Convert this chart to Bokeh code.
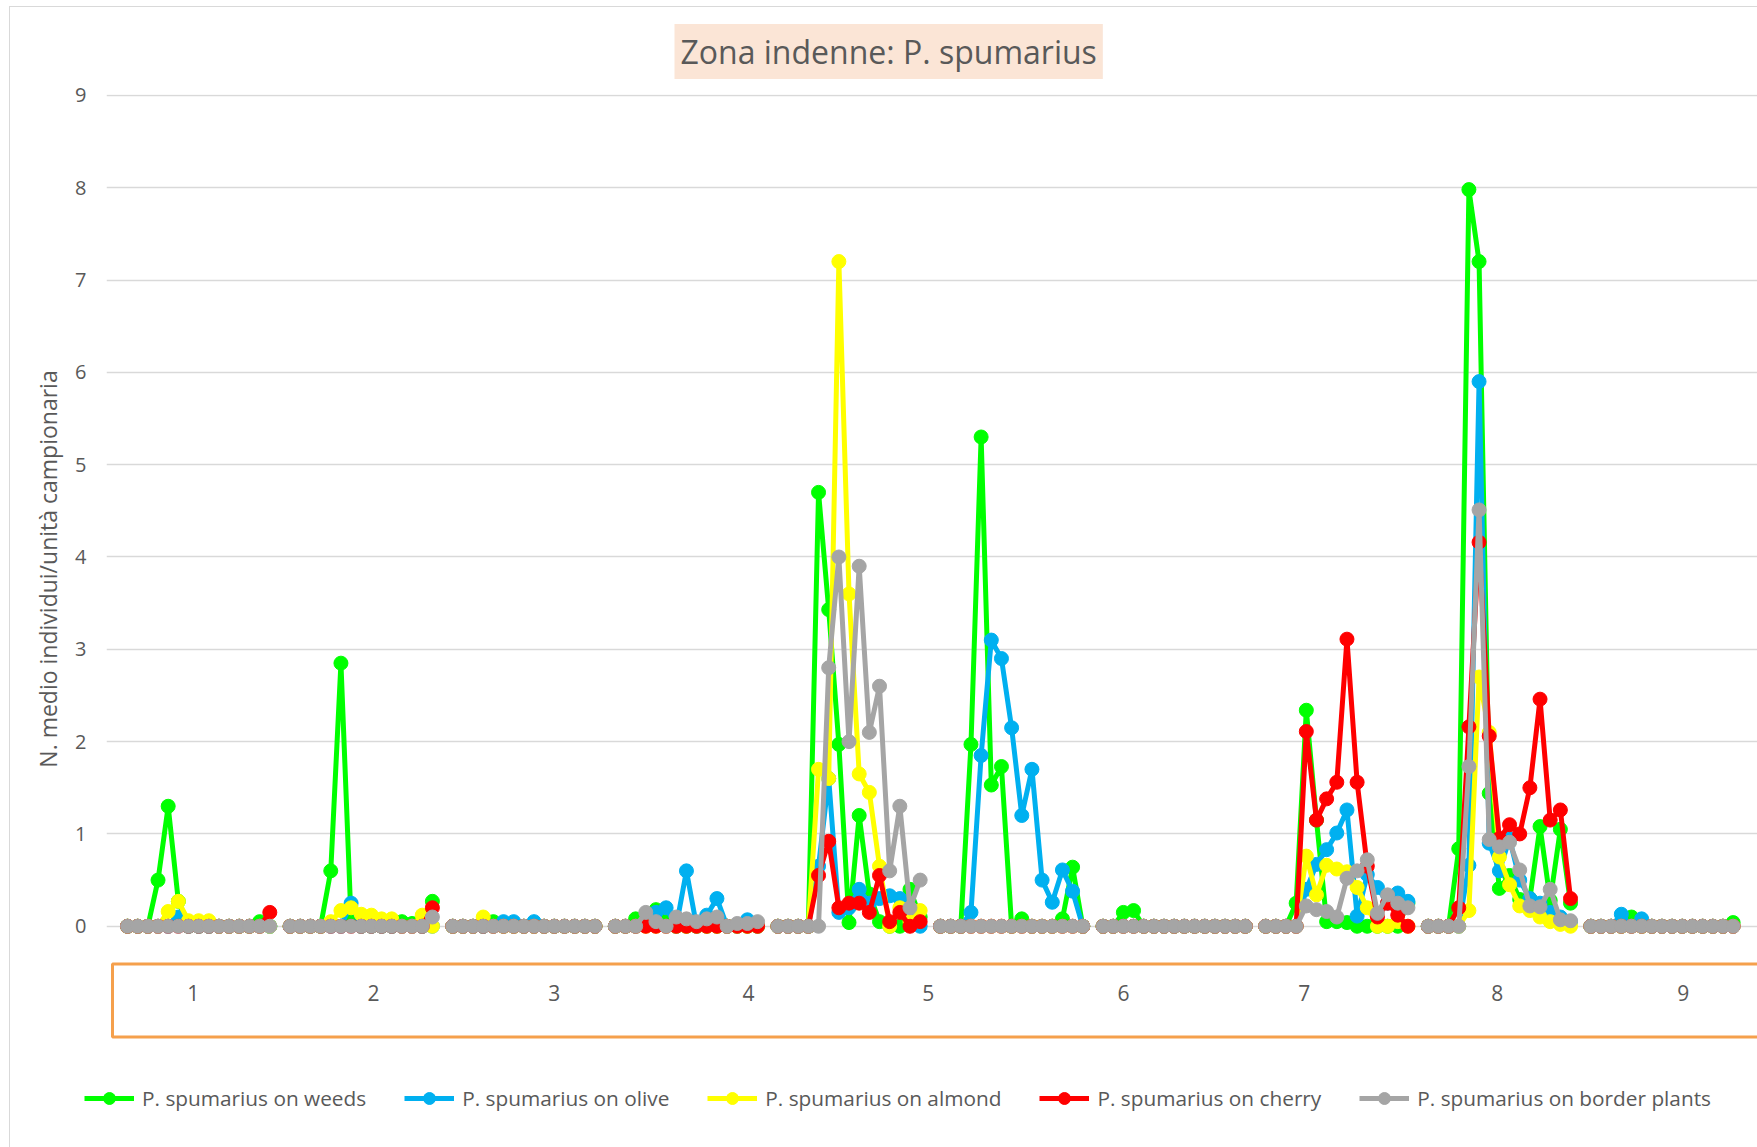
from bokeh.plotting import figure
from bokeh.models import Range1d, FixedTicker, Legend, LegendItem, BoxAnnotation, Title
from bokeh.core.properties import value
from bokeh.embed import file_html
from bokeh.resources import INLINE

# ---- data: 10 groups x 15 sampling points ----
STEP = 16  # 15 points + 1 empty category between groups

weeds = [
    [0, 0, 0, 0.5, 1.3, 0.27, 0, 0, 0, 0, 0, 0, 0, 0.05, 0],
    [0, 0, 0, 0, 0.6, 2.85, 0.05, 0, 0, 0, 0, 0.05, 0.03, 0, 0.27],
    [0, 0, 0, 0, 0.05, 0, 0, 0, 0, 0, 0, 0, 0, 0, 0],
    [0, 0, 0.08, 0.12, 0.18, 0.1, 0, 0, 0, 0, 0, 0, 0, 0, 0],
    [0, 0, 0, 0, 4.7, 3.43, 1.97, 0.04, 1.2, 0.35, 0.05, 0, 0, 0.4, 0.1],
    [0, 0, 0, 1.97, 5.3, 1.53, 1.73, 0, 0.08, 0, 0, 0, 0.08, 0.64, 0],
    [0, 0, 0.15, 0.17, 0, 0, 0, 0, 0, 0, 0, 0, 0, 0, 0],
    [0, 0, 0, 0.25, 2.34, 1.15, 0.05, 0.05, 0.04, 0, 0, 0, 0, 0, 0.25],
    [0, 0, 0, 0.84, 7.98, 7.2, 1.44, 0.41, 0.55, 0.29, 0.3, 1.08, 0.28, 1.05, 0.25],
    [0, 0, 0, 0, 0.1, 0, 0, 0, 0, 0, 0, 0, 0, 0, 0.04],
]
olive = [
    [0, 0, 0, 0, 0, 0.1, 0, 0, 0, 0, 0, 0, 0, 0, 0],
    [0, 0, 0, 0, 0, 0, 0.25, 0, 0, 0, 0, 0, 0, 0, 0],
    [0, 0, 0, 0, 0, 0.05, 0.05, 0, 0.05, 0, 0, 0, 0, 0, 0],
    [0, 0, 0, 0.05, 0.15, 0.2, 0, 0.6, 0, 0.12, 0.3, 0, 0, 0.07, 0],
    [0, 0, 0, 0, 0.65, 1.6, 0.15, 0.2, 0.4, 0.25, 0.3, 0.33, 0.3, 0.1, 0],
    [0, 0, 0, 0.15, 1.85, 3.1, 2.9, 2.15, 1.2, 1.7, 0.5, 0.26, 0.61, 0.38, 0],
    [0, 0, 0, 0, 0, 0, 0, 0, 0, 0, 0, 0, 0, 0, 0],
    [0, 0, 0, 0, 0.4, 0.67, 0.83, 1.01, 1.26, 0.11, 0.56, 0.42, 0.25, 0.36, 0.27],
    [0, 0, 0, 0, 0.66, 5.9, 0.9, 0.6, 0.95, 0.5, 0.3, 0.25, 0.15, 0.1, 0.05],
    [0, 0, 0, 0.13, 0, 0.08, 0, 0, 0, 0, 0, 0, 0, 0, 0],
]
almond = [
    [0, 0, 0, 0, 0.16, 0.27, 0.06, 0.06, 0.06, 0, 0, 0, 0, 0, 0],
    [0, 0, 0, 0, 0.05, 0.17, 0.2, 0.13, 0.12, 0.08, 0.08, 0, 0, 0.12, 0],
    [0, 0, 0, 0.1, 0, 0, 0, 0, 0, 0, 0, 0, 0, 0, 0],
    [0, 0, 0, 0, 0, 0, 0, 0, 0, 0, 0, 0, 0, 0, 0],
    [0, 0, 0, 0, 1.7, 1.6, 7.2, 3.6, 1.65, 1.45, 0.65, 0, 0.2, 0.05, 0.17],
    [0, 0, 0, 0, 0, 0, 0, 0, 0, 0, 0, 0, 0, 0, 0],
    [0, 0, 0, 0, 0, 0, 0, 0, 0, 0, 0, 0, 0, 0, 0],
    [0, 0, 0, 0, 0.76, 0.34, 0.66, 0.62, 0.59, 0.42, 0.2, 0, 0, 0.05, 0],
    [0, 0, 0, 0, 0.17, 2.7, 2.1, 0.75, 0.45, 0.22, 0.17, 0.1, 0.05, 0.02, 0],
    [0, 0, 0, 0, 0, 0, 0, 0, 0, 0, 0, 0, 0, 0, 0],
]
cherry = [
    [0, 0, 0, 0, 0, 0, 0, 0, 0, 0, 0, 0, 0, 0, 0.15],
    [0, 0, 0, 0, 0, 0, 0, 0, 0, 0, 0, 0, 0, 0, 0.2],
    [0, 0, 0, 0, 0, 0, 0, 0, 0, 0, 0, 0, 0, 0, 0],
    [0, 0, 0, 0, 0, 0, 0, 0, 0, 0, 0, 0, 0, 0, 0],
    [0, 0, 0, 0, 0.55, 0.92, 0.2, 0.25, 0.25, 0.15, 0.55, 0.05, 0.15, 0, 0.05],
    [0, 0, 0, 0, 0, 0, 0, 0, 0, 0, 0, 0, 0, 0, 0],
    [0, 0, 0, 0, 0, 0, 0, 0, 0, 0, 0, 0, 0, 0, 0],
    [0, 0, 0, 0, 2.11, 1.15, 1.38, 1.56, 3.11, 1.56, 0.65, 0.1, 0.25, 0.12, 0],
    [0, 0, 0, 0.2, 2.16, 4.16, 2.06, 0.95, 1.1, 1.0, 1.5, 2.46, 1.15, 1.26, 0.3],
    [0, 0, 0, 0, 0, 0, 0, 0, 0, 0, 0, 0, 0, 0, 0],
]
border = [
    [0, 0, 0, 0, 0, 0, 0, 0, 0, 0, 0, 0, 0, 0, 0],
    [0, 0, 0, 0, 0, 0, 0, 0, 0, 0, 0, 0, 0, 0, 0.1],
    [0, 0, 0, 0, 0, 0, 0, 0, 0, 0, 0, 0, 0, 0, 0],
    [0, 0, 0, 0.15, 0.05, 0, 0.1, 0.08, 0.05, 0.08, 0.1, 0, 0.03, 0.03, 0.05],
    [0, 0, 0, 0, 0, 2.8, 4.0, 2.0, 3.9, 2.1, 2.6, 0.6, 1.3, 0.2, 0.5],
    [0, 0, 0, 0, 0, 0, 0, 0, 0, 0, 0, 0, 0, 0, 0],
    [0, 0, 0, 0, 0, 0, 0, 0, 0, 0, 0, 0, 0, 0, 0],
    [0, 0, 0, 0, 0.22, 0.18, 0.16, 0.1, 0.52, 0.6, 0.72, 0.14, 0.34, 0.25, 0.2],
    [0, 0, 0, 0, 1.73, 4.51, 0.94, 0.86, 0.91, 0.61, 0.22, 0.21, 0.4, 0.07, 0.06],
    [0, 0, 0, 0, 0, 0, 0, 0, 0, 0, 0, 0, 0, 0, 0],
]

series_names = ["P. spumarius on weeds", "P. spumarius on olive", "P. spumarius on almond",
                "P. spumarius on cherry", "P. spumarius on border plants"]
series_data = [weeds, olive, almond, cherry, border]
series_colors = ["#00FF00", "#00B0F0", "#FFFF00", "#FF0000", "#A5A5A5"]

group_labels = ["1", "2", "3", "4", "5", "6", "7", "8", "9"]
group_label_pos = [6.47, 24.2, 42.0, 61.1, 78.8, 98.0, 115.8, 134.8, 153.1]
y_ticks = [0, 1, 2, 3, 4, 5, 6, 7, 8, 9]

TXT = "#595959"
FONT = "Open Sans"
NAN = float("nan")
EDGE = "#D9D9D9"


def flatten(series):
    xs, ys = [], []
    for g, grp in enumerate(series):
        for j, v in enumerate(grp):
            xs.append(g * STEP + j)
            ys.append(v)
        xs.append(NAN)
        ys.append(NAN)
    return xs, ys


p = figure(width=1757, height=1043, output_backend="svg", toolbar_location=None,
           x_range=Range1d(-2.07, 160.4), y_range=Range1d(-1.27, 9.01),
           min_border_left=106, min_border_right=0, min_border_top=94, min_border_bottom=0,
           x_axis_location=None)
p.outline_line_color = None
p.background_fill_color = "white"
p.border_fill_alpha = 0
p.styles = {"background": (f"linear-gradient({EDGE},{EDGE}) 9px 6px / 1px 100% no-repeat, "
                           f"linear-gradient({EDGE},{EDGE}) 9px 6px / 100% 1px no-repeat, white")}
p.xgrid.visible = False
p.ygrid.ticker = FixedTicker(ticks=y_ticks)
p.ygrid.grid_line_color = "#D9D9D9"
p.ygrid.grid_line_width = 1.5

ax = p.yaxis[0]
ax.ticker = FixedTicker(ticks=y_ticks)
ax.axis_line_color = None
ax.major_tick_line_color = None
ax.minor_tick_line_color = None
ax.major_tick_out = 0
ax.major_tick_in = 0
ax.minor_tick_out = 0
ax.major_label_standoff = 20
ax.major_label_text_font = FONT
ax.major_label_text_font_size = "20px"
ax.major_label_text_color = TXT
ax.axis_label = "N. medio individui/unità campionaria"
ax.axis_label_standoff = 8
ax.axis_label_text_font = FONT
ax.axis_label_text_font_size = "23px"
ax.axis_label_text_font_style = "normal"
ax.axis_label_text_color = TXT

for data, col in zip(series_data, series_colors):
    xs, ys = flatten(data)
    p.line(xs, ys, line_color=col, line_width=5)
    p.scatter(xs, ys, size=14, fill_color=col, line_color=col, line_width=1)

# category-group frame and labels
p.add_layout(BoxAnnotation(left=-1.48, right=200, top=-0.41, bottom=-1.20,
                           fill_alpha=0, line_color="#F5A04C", line_alpha=1, line_width=3))
p.text(x=group_label_pos, y=[-0.727] * len(group_labels), text=group_labels,
       text_align="center", text_baseline="middle", text_font=value(FONT),
       text_font_size="21px", text_color=TXT)

# chart title
p.add_layout(Title(text="Zona indenne: P. spumarius", align="left", offset=568,
                   text_font=FONT, text_font_size="32px", text_font_style="normal",
                   text_color=TXT, background_fill_color="#FBE5D6", padding=6,
                   standoff=31), "above")

# legend strip (separate root, not frame-aligned)
q = figure(width=1757, height=104, output_backend="svg", toolbar_location=None,
           x_range=Range1d(0, 1), y_range=Range1d(0, 1),
           min_border_left=0, min_border_right=0, min_border_top=0, min_border_bottom=0,
           x_axis_location=None, y_axis_location=None)
q.outline_line_color = None
q.xgrid.visible = False
q.ygrid.visible = False
q.background_fill_alpha = 0
q.border_fill_alpha = 0
q.styles = {"background": f"linear-gradient({EDGE},{EDGE}) 9px 0 / 1px 100% no-repeat, white"}

items = []
for name, col in zip(series_names, series_colors):
    lr = q.line([NAN], [NAN], line_color=col, line_width=5)
    sr = q.scatter([NAN], [NAN], size=14, fill_color=col, line_color=col)
    items.append(LegendItem(label=name, renderers=[lr, sr]))

legend = Legend(items=items, orientation="horizontal", location=(84, 34),
                label_text_font=FONT, label_text_font_size="20.8px", label_text_color=TXT,
                glyph_width=50, glyph_height=30, label_standoff=8, spacing=38,
                padding=0, margin=0, border_line_color=None, background_fill_alpha=0)
q.add_layout(legend)

open("out.html", "w").write(file_html([p, q], INLINE))
